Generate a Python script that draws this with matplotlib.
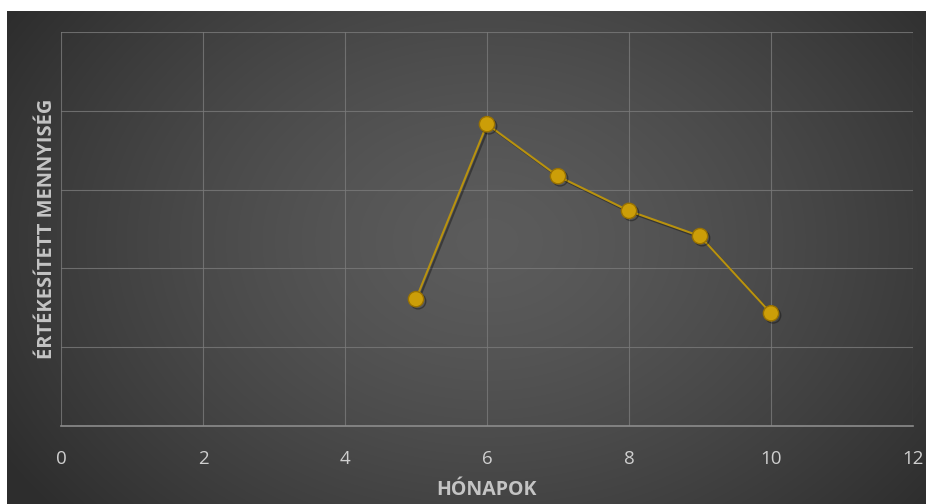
import numpy as np
import matplotlib
matplotlib.use("Agg")
import matplotlib.pyplot as plt
import matplotlib.patheffects as pe

# monthly sales volume
months = [5, 6, 7, 8, 9, 10]
sold = [1.61, 3.83, 3.17, 2.73, 2.41, 1.43]

x_ticks = [0, 2, 4, 6, 8, 10, 12]

W, H = 926, 504
fig = plt.figure(figsize=(W / 100, H / 100), dpi=100)
fig.patch.set_facecolor("white")

# dark radial gradient panel behind the chart
bg = fig.add_axes([7 / W, 0, 1 - 7 / W, 1 - 11 / H])
bg.set_axis_off()
yy, xx = np.mgrid[0:493, 0:919]
cx, cy = 480, 230
r = np.sqrt(((xx - cx) / 560.0) ** 2 + ((yy - cy) / 420.0) ** 2)
shade = 0.36 - 0.18 * np.clip(r, 0, 1) ** 1.4
bg.imshow(np.dstack([shade, shade, shade]), aspect="auto", interpolation="bilinear")

ax = fig.add_axes([61 / W, 78 / H, 852 / W, 394 / H])
ax.set_facecolor("none")
ax.plot(months, sold, color="#b8920f", lw=1.5, marker="o", ms=11,
        mfc="#cc9e08", mec="#9a7200", mew=1.0, zorder=3,
        path_effects=[pe.SimpleLineShadow(offset=(1.5, -1.5), shadow_color="black", alpha=0.35),
                      pe.Normal()])

ax.set_xlim(0, 12)
ax.set_ylim(0, 5)
ax.set_xticks(x_ticks)
ax.set_yticks(range(0, 6))
ax.grid(True, color="#7a7a7a", lw=0.8, alpha=0.8)
ax.set_axisbelow(True)
for side in ["top", "right", "left"]:
    ax.spines[side].set_visible(False)
ax.spines["bottom"].set_color("#8c8c8c")
ax.spines["bottom"].set_linewidth(1.2)
ax.tick_params(axis="x", length=0, pad=17, labelsize=13.5, labelcolor="#cfcfcf")
ax.tick_params(axis="y", length=0, labelleft=False)
for lbl in ax.get_xticklabels():
    lbl.set_family("Open Sans")

ax.set_xlabel("HÓNAPOK", family="Open Sans", fontweight="bold", fontsize=14,
              color="#c4c4c4", labelpad=9)
ax.set_ylabel("ÉRTÉKESÍTETT MENNYISÉG", family="Open Sans", fontweight="bold",
              fontsize=14.5, color="#c4c4c4", labelpad=3)

fig.savefig("out.png", dpi=100)
